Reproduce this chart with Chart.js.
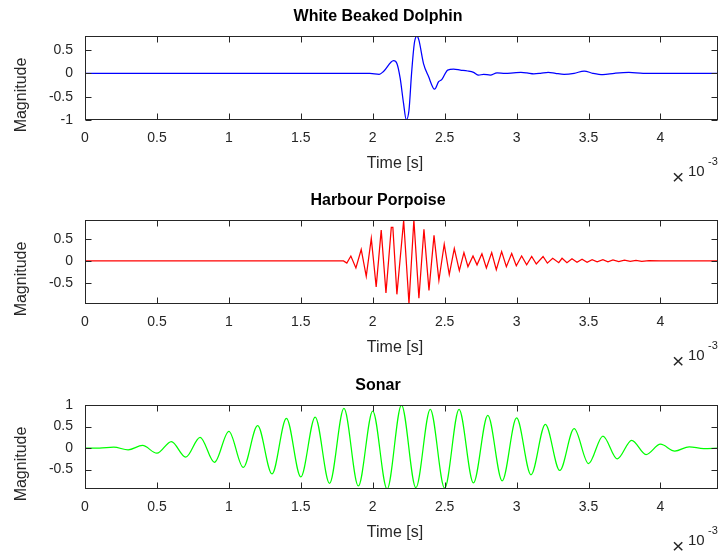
<!DOCTYPE html>
<html>
<head>
<meta charset="utf-8">
<script src="https://cdn.jsdelivr.net/npm/chart.js@4.4.0/dist/chart.umd.min.js"></script>
<style>
  html, body { margin: 0; padding: 0; background: #fff; }
  #wrap { position: relative; width: 720px; height: 555px; overflow: hidden; }
  .panel { position: absolute; left: 0; width: 720px; height: 185px; }
</style>
</head>
<body>
<div id="wrap">
  <div class="panel" style="top:0px"><canvas id="dolphin" width="720" height="185"></canvas></div>
  <div class="panel" style="top:184px"><canvas id="porpoise" width="720" height="185"></canvas></div>
  <div class="panel" style="top:369px"><canvas id="sonar" width="720" height="185"></canvas></div>
</div>
<script>
// time axis in units of 1e-3 s (shown with the x10^-3 multiplier)
const TIME_TICKS = [0, 0.5, 1, 1.5, 2, 2.5, 3, 3.5, 4];
const TIME_MAX = 4.4;

// White Beaked Dolphin click
const dolphinT = [0, 1.98, 2.045, 2.075, 2.145, 2.168, 2.191, 2.214, 2.233, 2.252, 2.270, 2.289, 2.307, 2.321,
  2.353, 2.388, 2.430, 2.458, 2.481, 2.521, 2.562, 2.609, 2.660, 2.701, 2.736, 2.771, 2.817, 2.864, 2.92, 2.979,
  3.03, 3.072, 3.12, 3.165, 3.22, 3.27, 3.33, 3.40, 3.47, 3.53, 3.60, 3.68, 3.78, 3.88, 4.0, 4.4];
const dolphinY = [0, 0, -0.02, 0.04, 0.27, 0.21, -0.11, -0.64, -0.99, -0.79, 0, 0.64, 0.80, 0.71,
  0.21, -0.07, -0.34, -0.18, -0.13, 0.07, 0.09, 0.07, 0.05, 0.02, -0.04, -0.02, -0.04, 0.01, 0.0, 0.01,
  0.02, 0.01, -0.01, 0, 0.02, 0.0, -0.02, 0.0, 0.05, 0.0, -0.03, 0.0, 0.02, 0.0, 0, 0];
const dolphinYTicks = [-1, -0.5, 0, 0.5];
const dolphinYLim = [-1, 0.8];

// Harbour Porpoise click
const porpoiseT = [0, 1.797, 1.820, 1.848, 1.883, 1.920, 1.955, 1.990, 2.024, 2.059, 2.092, 2.129, 2.140, 2.168,
  2.215, 2.252, 2.286, 2.321, 2.356, 2.391, 2.426, 2.460, 2.497, 2.532, 2.567, 2.602, 2.634, 2.662, 2.697, 2.725,
  2.759, 2.790, 2.827, 2.859, 2.896, 2.929, 2.966, 2.998, 3.035, 3.070, 3.105, 3.137, 3.184, 3.214, 3.251, 3.293,
  3.316, 3.35, 3.385, 3.42, 3.455, 3.49, 3.525, 3.56, 3.60, 3.635, 3.67, 3.71, 3.75, 3.79, 3.83, 3.87, 3.92, 4.0, 4.4];
const porpoiseY = [0, 0, -0.05, 0.11, -0.16, 0.26, -0.35, 0.51, -0.59, 0.70, -0.73, 0.76, 0.76, -0.76,
  0.92, -0.97, 0.93, -0.85, 0.72, -0.67, 0.58, -0.44, 0.38, -0.31, 0.28, -0.22, 0.19, -0.13, 0.11, -0.09,
  0.16, -0.16, 0.19, -0.20, 0.21, -0.13, 0.17, -0.11, 0.11, -0.09, 0.10, -0.07, 0.10, -0.05, 0.06, -0.04,
  0.06, -0.04, 0.05, -0.03, 0.04, -0.03, 0.03, -0.02, 0.03, -0.02, 0.02, -0.015, 0.015, -0.01, 0.01, -0.01, 0.005, 0, 0];
const porpoiseYTicks = [-0.5, 0, 0.5];
const porpoiseYLim = [-0.98, 0.93];

// Sonar ping
const sonarT = [0, 0.1, 0.2, 0.3, 0.4, 0.5, 0.6, 0.7, 0.8, 0.9, 1.0, 1.1, 1.2, 1.3, 1.4, 1.5, 1.6, 1.7, 1.8, 1.9,
  2.0, 2.1, 2.2, 2.3, 2.4, 2.5, 2.6, 2.7, 2.8, 2.9, 3.0, 3.1, 3.2, 3.3, 3.4, 3.5, 3.6, 3.7, 3.8, 3.9, 4.0, 4.1,
  4.2, 4.3, 4.4];
const sonarY = [0, 0, 0.02, -0.04, 0.06, -0.12, 0.15, -0.21, 0.25, -0.33, 0.39, -0.45, 0.52, -0.6, 0.69, -0.67,
  0.72, -0.82, 0.92, -0.88, 0.86, -0.95, 1.0, -0.92, 0.9, -0.93, 0.9, -0.81, 0.76, -0.76, 0.7, -0.62, 0.55,
  -0.52, 0.45, -0.36, 0.28, -0.25, 0.18, -0.15, 0.09, -0.07, 0.03, -0.01, 0];
const sonarYTicks = [-0.5, 0, 0.5, 1];
const sonarYLim = [-0.95, 1];

const FONT = '"Liberation Sans", Arial, Helvetica, sans-serif';
const INK = '#262626';

// box, inward ticks, title, axis labels and exponent, drawn MATLAB style
const matlabAxes = {
  id: 'matlabAxes',
  afterDraw(chart, args, opts) {
    const { ctx, chartArea: a, scales } = chart;
    const x0 = Math.floor(a.left) + 0.5, x1 = Math.floor(a.right) - 0.5;
    const y0 = Math.floor(a.top) + 0.5, y1 = Math.floor(a.bottom) - 0.5;
    ctx.save();
    ctx.strokeStyle = INK;
    ctx.lineWidth = 1;
    ctx.strokeRect(x0, y0, x1 - x0, y1 - y0);
    ctx.beginPath();
    scales.x.ticks.forEach((t) => {
      const px = Math.round(scales.x.getPixelForValue(t.value)) + 0.5;
      ctx.moveTo(px, y1); ctx.lineTo(px, y1 - 6);
      ctx.moveTo(px, y0); ctx.lineTo(px, y0 + 6);
    });
    scales.y.ticks.forEach((t) => {
      const py = Math.round(scales.y.getPixelForValue(t.value)) + 0.5;
      ctx.moveTo(x0, py); ctx.lineTo(x0 + 6, py);
      ctx.moveTo(x1, py); ctx.lineTo(x1 - 6, py);
    });
    ctx.stroke();

    ctx.fillStyle = '#000';
    ctx.textAlign = 'center';
    ctx.textBaseline = 'middle';
    ctx.font = 'bold 16px ' + FONT;
    ctx.fillText(opts.title, 378, 17);

    ctx.fillStyle = INK;
    ctx.font = '16px ' + FONT;
    ctx.fillText('Time [s]', 395, 164);

    ctx.save();
    ctx.translate(22, 95);
    ctx.rotate(-Math.PI / 2);
    ctx.fillText('Magnitude', 0, 0);
    ctx.restore();

    ctx.textAlign = 'left';
    ctx.textBaseline = 'alphabetic';
    ctx.font = '21px ' + FONT;
    ctx.fillText('\u00d7', 672, 184);
    ctx.font = '15px ' + FONT;
    ctx.fillText('10', 688, 176);
    ctx.font = '11px ' + FONT;
    ctx.fillText('-3', 708, 165);
    ctx.restore();
  }
};

function makePanel(id, title, T, Y, color, yTicks, yLim, smooth) {
  const points = T.map((t, i) => ({ x: t, y: Y[i] }));
  new Chart(document.getElementById(id), {
    type: 'line',
    data: {
      datasets: [{
        data: points,
        borderColor: color,
        borderWidth: 1.25,
        pointRadius: 0,
        fill: false,
        tension: 0,
        cubicInterpolationMode: smooth ? 'monotone' : 'default',
      }],
    },
    options: {
      responsive: false,
      animation: false,
      events: [],
      layout: { padding: { top: 36, right: 2, left: 0, bottom: 0 } },
      scales: {
        x: {
          type: 'linear',
          min: 0,
          max: TIME_MAX,
          afterBuildTicks: (s) => { s.ticks = TIME_TICKS.map((v) => ({ value: v })); },
          afterFit: (s) => { s.height = 65; },
          grid: { display: false, drawTicks: false },
          border: { display: false },
          ticks: {
            color: INK,
            padding: 10,
            maxRotation: 0,
            autoSkip: false,
            font: { family: FONT, size: 14 },
            callback: (v) => String(v),
          },
        },
        y: {
          min: yLim[0],
          max: yLim[1],
          afterBuildTicks: (s) => { s.ticks = yTicks.map((v) => ({ value: v })); },
          afterFit: (s) => { s.width = 85; },
          grid: { display: false, drawTicks: false },
          border: { display: false },
          ticks: {
            color: INK,
            padding: 12,
            font: { family: FONT, size: 14 },
            callback: (v) => String(v),
          },
        },
      },
      plugins: {
        legend: { display: false },
        tooltip: { enabled: false },
        matlabAxes: { title },
      },
    },
    plugins: [matlabAxes],
  });
}

makePanel('dolphin', 'White Beaked Dolphin', dolphinT, dolphinY, '#0000ff', dolphinYTicks, dolphinYLim, true);
makePanel('porpoise', 'Harbour Porpoise', porpoiseT, porpoiseY, '#ff0000', porpoiseYTicks, porpoiseYLim, false);
makePanel('sonar', 'Sonar', sonarT, sonarY, '#00ff00', sonarYTicks, sonarYLim, true);
</script>
</body>
</html>
